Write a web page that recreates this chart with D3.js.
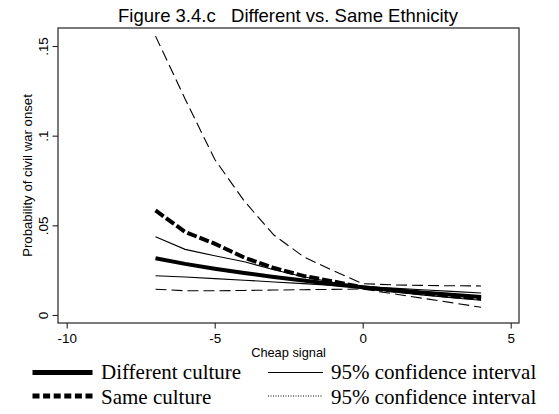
<!DOCTYPE html>
<html>
<head>
<meta charset="utf-8">
<script src="https://cdn.jsdelivr.net/npm/d3@7"></script>
<style>
  html, body { margin: 0; padding: 0; background: #fff; }
  svg { display: block; }
  .sans { font-family: "Liberation Sans", Arial, Helvetica, sans-serif; fill: #000; }
  .serif { font-family: "Liberation Serif", "Times New Roman", serif; fill: #000; }
</style>
</head>
<body>
<svg id="chart" width="559" height="414"></svg>
<script>
// Cheap signal values at which predictions were computed
const signal = [-7, -6, -5, -4, -3, -2, -1, 0, 1, 2, 3, 4];

// Different culture: predicted probability and 95% CI
const diffEst   = [0.0316, 0.0285, 0.0258, 0.0234, 0.0212, 0.0192, 0.0172, 0.0155, 0.0140, 0.0126, 0.0113, 0.0101];
const diffUpper = [0.0437, 0.0366, 0.0330, 0.0297, 0.0252, 0.0213, 0.0183, 0.0158, 0.0150, 0.0141, 0.0132, 0.0123];
const diffLower = [0.0219, 0.0212, 0.0203, 0.0194, 0.0184, 0.0175, 0.0165, 0.0153, 0.0130, 0.0112, 0.0096, 0.0082];

// Same culture: predicted probability and 95% CI
const sameEst   = [0.0583, 0.0463, 0.0398, 0.0320, 0.0262, 0.0218, 0.0187, 0.0154, 0.0137, 0.0121, 0.0106, 0.0092];
const sameUpper = [0.1555, 0.1205, 0.0868, 0.0635, 0.0446, 0.0325, 0.0247, 0.0175, 0.0168, 0.0165, 0.0163, 0.0162];
const sameLower = [0.0144, 0.0135, 0.0135, 0.0137, 0.0139, 0.0141, 0.0143, 0.0145, 0.0119, 0.0094, 0.0069, 0.0043];

// Axis ticks
const xTicks = [-10, -5, 0, 5];
const yTicks = [0, 0.05, 0.1, 0.15];
const yTickLabels = ["0", ".05", ".1", ".15"];

// Legend entries
const legendLeft = ["Different culture", "Same culture"];
const legendRight = ["95% confidence interval", "95% confidence interval"];

const svg = d3.select("#chart");

// Plot region frame
const frame = { left: 58, right: 519, top: 28, bottom: 323 };

const x = d3.scaleLinear().domain([-10, 5]).range([66.7, 510.7]);
const y = d3.scaleLinear().domain([0, 0.15]).range([315, 46]);

// Title
svg.append("text")
  .attr("class", "sans")
  .attr("x", 288)
  .attr("y", 22)
  .attr("text-anchor", "middle")
  .attr("font-size", 18.5)
  .style("white-space", "pre")
  .text("Figure 3.4.c   Different vs. Same Ethnicity");

// Frame around the plot region
svg.append("rect")
  .attr("x", frame.left)
  .attr("y", frame.top)
  .attr("width", frame.right - frame.left)
  .attr("height", frame.bottom - frame.top)
  .attr("fill", "none")
  .attr("stroke", "#222")
  .attr("stroke-width", 1.2);

// Y axis
const yAxis = d3.axisLeft(y)
  .tickValues(yTicks)
  .tickSize(5.5)
  .tickPadding(0)
  .tickFormat((d, i) => yTickLabels[i]);

const gy = svg.append("g")
  .attr("transform", `translate(${frame.left},0)`)
  .call(yAxis);
gy.select(".domain").remove();
gy.selectAll(".tick line").attr("stroke", "#222").attr("stroke-width", 1.1);
gy.selectAll(".tick text")
  .attr("class", "sans")
  .attr("font-size", 13.4)
  .attr("x", null).attr("dy", null)
  .attr("text-anchor", "middle")
  .attr("transform", "translate(-10.5,0) rotate(-90)")
  .attr("y", 0);

// X axis (plain hyphen for negative numbers)
const xAxis = d3.axisBottom(x)
  .tickValues(xTicks)
  .tickSize(5.5)
  .tickPadding(0)
  .tickFormat(d => String(d));

const gx = svg.append("g")
  .attr("transform", `translate(0,${frame.bottom})`)
  .call(xAxis);
gx.select(".domain").remove();
gx.selectAll(".tick line").attr("stroke", "#222").attr("stroke-width", 1.1);
gx.selectAll(".tick text")
  .attr("class", "sans")
  .attr("font-size", 13.4)
  .attr("dy", null)
  .attr("y", 20);

// Axis titles
svg.append("text")
  .attr("class", "sans")
  .attr("font-size", 13.2)
  .attr("text-anchor", "middle")
  .attr("transform", `translate(31.5,${(frame.top + frame.bottom) / 2}) rotate(-90)`)
  .text("Probability of civil war onset");

svg.append("text")
  .attr("class", "sans")
  .attr("font-size", 12.8)
  .attr("text-anchor", "middle")
  .attr("x", (frame.left + frame.right) / 2)
  .attr("y", 357)
  .text("Cheap signal");

// Series lines
const line = d3.line()
  .x(d => x(d[0]))
  .y(d => y(d[1]));

const series = [
  { values: sameUpper, width: 1.1, dash: "11,5" },
  { values: sameLower, width: 1.1, dash: "11,5" },
  { values: diffUpper, width: 1.1, dash: null },
  { values: diffLower, width: 1.1, dash: null },
  { values: diffEst,   width: 4,   dash: null },
  { values: sameEst,   width: 4,   dash: "10,3" }
];

svg.append("g")
  .selectAll("path")
  .data(series)
  .join("path")
  .attr("d", s => line(signal.map((v, i) => [v, s.values[i]])))
  .attr("fill", "none")
  .attr("stroke", "#000")
  .attr("stroke-width", s => s.width)
  .attr("stroke-dasharray", s => s.dash);

// Legend
const legend = svg.append("g");
const legRowY = [372.5, 396];
const legBaseY = [379, 404];

legend.append("line")
  .attr("x1", 32.5).attr("x2", 92.5)
  .attr("y1", legRowY[0]).attr("y2", legRowY[0])
  .attr("stroke", "#000").attr("stroke-width", 5);
legend.append("line")
  .attr("x1", 32.5).attr("x2", 92.5)
  .attr("y1", legRowY[1]).attr("y2", legRowY[1])
  .attr("stroke", "#000").attr("stroke-width", 5)
  .attr("stroke-dasharray", "7,3.6");

legend.append("line")
  .attr("x1", 268).attr("x2", 323)
  .attr("y1", legRowY[0]).attr("y2", legRowY[0])
  .attr("stroke", "#000").attr("stroke-width", 1.1);
legend.append("line")
  .attr("x1", 268).attr("x2", 323)
  .attr("y1", legRowY[1]).attr("y2", legRowY[1])
  .attr("stroke", "#000").attr("stroke-width", 1)
  .attr("stroke-dasharray", "1,1.5");

legend.selectAll("text.left")
  .data(legendLeft)
  .join("text")
  .attr("class", "serif left")
  .attr("font-size", 21)
  .attr("x", 101)
  .attr("y", (d, i) => legBaseY[i])
  .text(d => d);

legend.selectAll("text.right")
  .data(legendRight)
  .join("text")
  .attr("class", "serif right")
  .attr("font-size", 21)
  .attr("x", 331)
  .attr("y", (d, i) => legBaseY[i])
  .text(d => d);
</script>
</body>
</html>
